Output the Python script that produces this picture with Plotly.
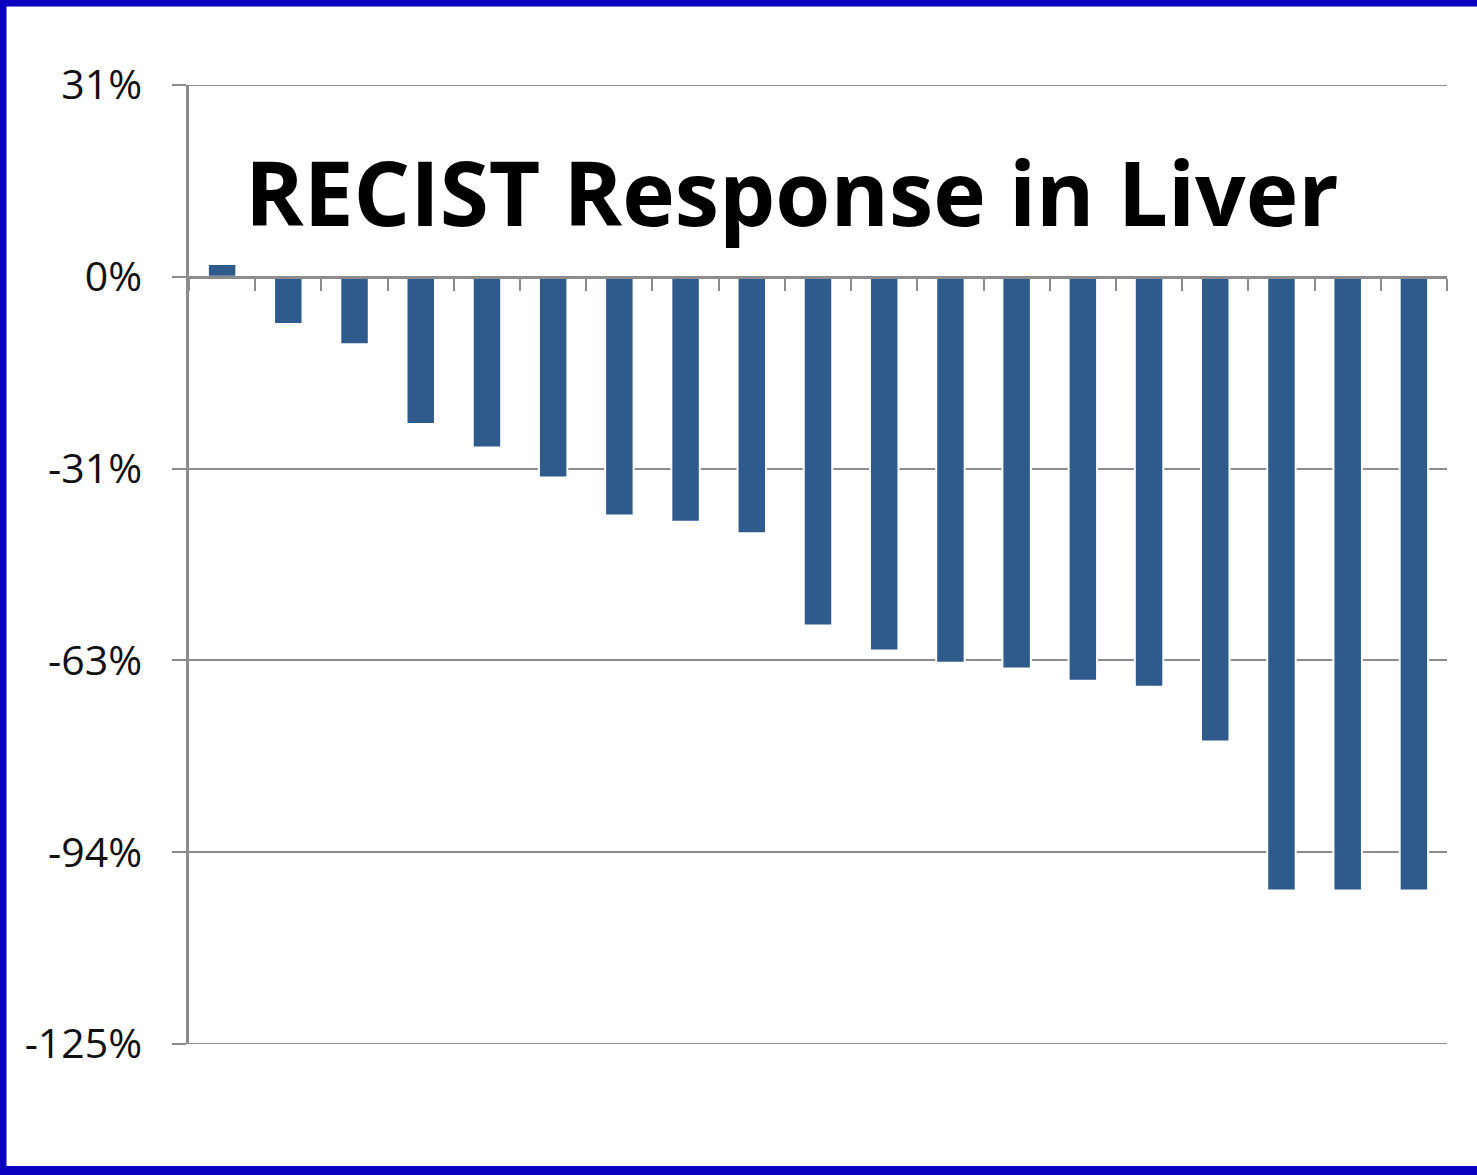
import plotly.graph_objects as go

# ---- data ----
patients = [f"P{i}" for i in range(1, 20)]
response = [2.1, -7.7, -11.0, -24.0, -27.8, -32.7, -38.9, -39.9, -41.8,
            -56.8, -60.9, -62.9, -63.8, -65.8, -66.8, -75.7, -100.0, -100.0, -100.0]
tick_vals = [31.25, 0, -31.25, -62.5, -93.75, -125]
tick_text = ["31%", "0%", "-31%", "-63%", "-94%", "-125%"]
title_text = "RECIST Response in Liver"

W, H = 1477, 1175
ML, MR, MT, MB = 189, 30, 85, 131
PW, PH = W - ML - MR, H - MT - MB

def px(x):
    return (x - ML) / PW

def py(y):
    return (H - MB - y) / PH

grid_col = "#8c8c8c"
bar_col = "#2E5A8C"
border_col = "#0800BE"

fig = go.Figure()
fig.add_trace(go.Bar(
    x=patients, y=response,
    marker=dict(color=bar_col, line=dict(color="white", width=2)),
    width=0.43,
))

ymin, ymax = tick_vals[-1], tick_vals[0]
zero_pos = (0 - ymin) / (ymax - ymin)

shapes = [
    dict(type="line", xref="paper", yref="y", x0=0, x1=1, y0=v, y1=v,
         line=dict(color=grid_col, width=2), layer="below")
    for v in (tick_vals[0], tick_vals[-1])
]
shapes += [
    dict(type="line", xref="paper", yref="paper", x0=px(3), x1=px(1500), y0=py(3), y1=py(3),
         line=dict(color=border_col, width=7)),
    dict(type="line", xref="paper", yref="paper", x0=px(3), x1=px(1500), y0=py(1170.5), y1=py(1170.5),
         line=dict(color=border_col, width=9)),
    dict(type="line", xref="paper", yref="paper", x0=px(3), x1=px(3), y0=py(0), y1=py(1175),
         line=dict(color=border_col, width=7)),
]

fig.update_layout(
    width=W, height=H,
    margin=dict(l=ML, r=MR, t=MT, b=MB),
    paper_bgcolor="white", plot_bgcolor="white",
    showlegend=False,
    font=dict(family="Open Sans", color="#111111"),
    xaxis=dict(
        type="category", anchor="free", position=zero_pos,
        showline=True, linecolor=grid_col, linewidth=2.5,
        ticks="outside", tickson="boundaries", ticklen=12, tickwidth=2, tickcolor=grid_col,
        showticklabels=False, showgrid=False, zeroline=False,
    ),
    yaxis=dict(
        range=[ymin, ymax], tickvals=tick_vals, ticktext=tick_text,
        showgrid=True, gridcolor=grid_col, gridwidth=2,
        showline=True, linecolor=grid_col, linewidth=2.5,
        ticks="outside", ticklen=14, tickwidth=2, tickcolor=grid_col,
        tickfont=dict(size=41, family="Open Sans", color="#111111"),
        ticklabelstandoff=22,
        zeroline=False,
    ),
    annotations=[dict(
        text=f"<b>{title_text}</b>", xref="paper", yref="paper",
        x=px(792), y=py(192), xanchor="center", yanchor="middle",
        showarrow=False, font=dict(size=89, family="Open Sans", color="black"),
    )],
    shapes=shapes,
)

fig.write_html("out.html")
